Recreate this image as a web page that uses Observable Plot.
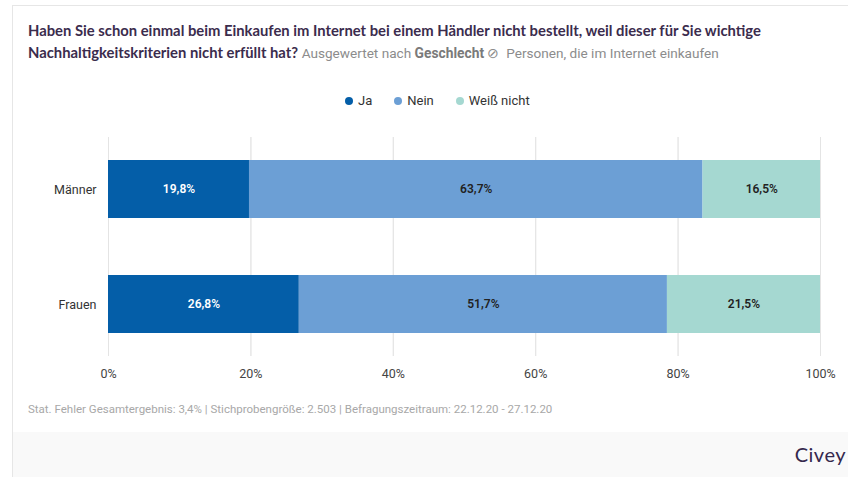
<!DOCTYPE html>
<html>
<head>
<meta charset="utf-8">
<script src="https://cdn.jsdelivr.net/npm/d3@7"></script>
<script src="https://cdn.jsdelivr.net/npm/@observablehq/plot@0.6"></script>
<style>
  html, body { margin: 0; padding: 0; background: #fff; width: 848px; height: 477px; overflow: hidden; font-family: Roboto, "Noto Sans", sans-serif; }
  #card { position: absolute; left: 12px; top: 5px; width: 840px; height: 480px; border-left: 1px solid #e6e6e6; border-top: 1px solid #e6e6e6; box-sizing: border-box; }
  #title { position: absolute; left: 28px; top: 19px; width: 820px; white-space: nowrap; font-family: Lato, sans-serif; font-size: 14.8px; line-height: 22px; color: #3b2c4d; font-weight: 700; }
  #title .sub { color: #8c8c8c; font-weight: 400; font-size: 13.6px; font-family: Roboto, sans-serif; }
  #title .subb { color: #7a7a7a; font-weight: 700; font-size: 13.8px; font-family: Roboto, sans-serif; }
  #legend { position: absolute; left: 345px; top: 93px; display: flex; gap: 0; font-size: 13px; color: #333; font-family: Roboto, sans-serif; }
  #legend span.item { display: inline-flex; align-items: center; margin-right: 22px; }
  #legend span.dot { width: 8px; height: 8px; border-radius: 50%; display: inline-block; margin-right: 5px; }
  #chart { position: absolute; left: 0; top: 120px; }
  #note { position: absolute; left: 28px; top: 402px; font-size: 11.5px; color: #a8a8a8; font-family: Roboto, sans-serif; }
  #footer { position: absolute; left: 13px; top: 432px; width: 835px; height: 45px; background: #f9f9f9; }
  #brand { position: absolute; right: 2px; top: 442px; font-family: Lato, sans-serif; font-size: 20px; color: #35284d; letter-spacing: 0.5px; }
</style>
</head>
<body>
<div id="card"></div>
<div id="title">Haben Sie schon einmal beim Einkaufen im Internet bei einem Händler nicht bestellt, weil dieser für Sie wichtige<br>Nachhaltigkeitskriterien nicht erfüllt hat? <span class="sub">Ausgewertet nach </span><span class="subb">Geschlecht</span><span class="sub"> ⊘ &nbsp;Personen, die im Internet einkaufen</span></div>
<div id="legend"></div>
<div id="chart"></div>
<div id="note">Stat. Fehler Gesamtergebnis: 3,4% | Stichprobengröße: 2.503 | Befragungszeitraum: 22.12.20 - 27.12.20</div>
<div id="footer"></div>
<div id="brand">Civey</div>
<script>
const categories = ["Männer", "Frauen"];
const answers = ["Ja", "Nein", "Weiß nicht"];
const ja = [19.8, 26.8];
const nein = [63.7, 51.7];
const weissNicht = [16.5, 21.5];
const colors = ["#045ea8", "#6c9fd5", "#a5d8d1"];
const xTicks = [0, 20, 40, 60, 80, 100];

const series = [ja, nein, weissNicht];
const data = [];
categories.forEach((c, i) => {
  answers.forEach((a, j) => data.push({ group: c, answer: a, value: series[j][i] }));
});

const fmt = v => v.toFixed(1).replace(".", ",") + "%";

// legend
const legend = document.getElementById("legend");
answers.forEach((a, j) => {
  const item = document.createElement("span");
  item.className = "item";
  item.innerHTML = `<span class="dot" style="background:${colors[j]}"></span>${a}`;
  legend.appendChild(item);
});

const chart = Plot.plot({
  width: 848,
  height: 262,
  marginLeft: 108,
  marginRight: 28,
  marginTop: 17,
  marginBottom: 26,
  style: { fontFamily: "Roboto, sans-serif", fontSize: "12.5px", color: "#444", background: "transparent" },
  x: { domain: [0, 100], ticks: xTicks, tickFormat: d => d + "%", grid: true, label: null },
  y: { domain: categories, paddingInner: 0.5, paddingOuter: 0.2, label: null },
  color: { domain: answers, range: colors },
  marks: [
    Plot.gridX(xTicks, { stroke: "#e4e4e4", strokeOpacity: 1 }),
    Plot.axisX({ ticks: xTicks, tickFormat: d => d + "%", tickSize: 0, tickPadding: 13, fontSize: 12.5, fill: "#444" }),
    Plot.axisY({ tickSize: 0, tickPadding: 12, fontSize: 12.5, fill: "#333" }),
    Plot.barX(data, Plot.stackX({ x: "value", y: "group", fill: "answer" })),
    Plot.text(data, Plot.stackX({
      x: "value", y: "group", z: "answer",
      text: d => fmt(d.value),
      fill: d => d.answer === "Ja" ? "white" : "#222",
      fontWeight: 600, fontSize: 12
    }))
  ]
});
document.getElementById("chart").appendChild(chart);
</script>
</body>
</html>
